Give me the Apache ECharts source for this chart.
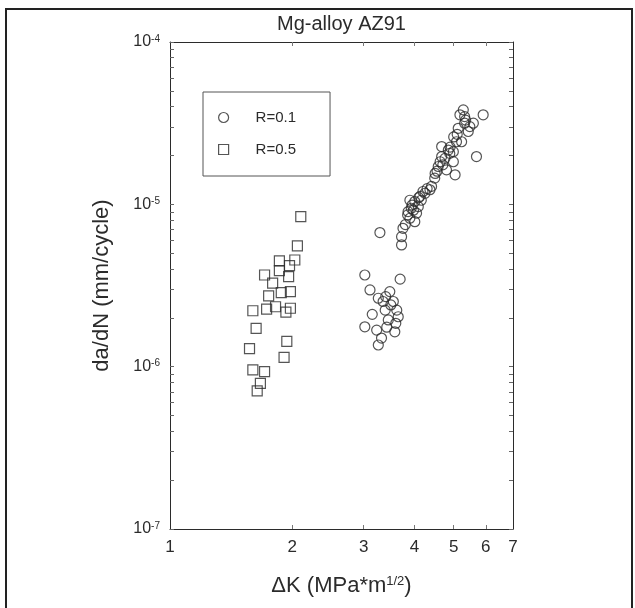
<!DOCTYPE html>
<html>
<head>
<meta charset="utf-8">
<script src="https://cdn.jsdelivr.net/npm/echarts@6/dist/echarts.min.js"></script>
<style>
  html, body { margin: 0; padding: 0; background: #fff; }
  #chart { width: 635px; height: 608px; }
</style>
</head>
<body>
<div id="chart"></div>
<script>
// R=0.1 points: [deltaK, da/dN]
const r01 = [
  [5.91, 3.56e-5], [5.28, 3.82e-5], [5.32, 3.47e-5], [5.59, 3.16e-5], [5.13, 2.94e-5],
  [5.43, 2.81e-5], [5.32, 3.16e-5], [5.18, 3.56e-5], [5.48, 3.01e-5], [5.69, 1.97e-5],
  [5.08, 2.43e-5], [5.23, 2.43e-5], [4.85, 2.16e-5], [4.67, 2.27e-5], [4.99, 2.11e-5],
  [4.89, 2.06e-5], [4.67, 1.97e-5], [4.76, 1.92e-5], [4.99, 1.83e-5], [4.63, 1.83e-5],
  [5.04, 1.52e-5], [4.58, 1.71e-5], [4.80, 1.63e-5], [4.49, 1.45e-5], [4.41, 1.29e-5],
  [4.37, 1.23e-5], [4.25, 1.17e-5], [4.13, 1.12e-5], [4.16, 1.06e-5], [4.01, 1.04e-5],
  [3.90, 1.06e-5], [3.93, 9.46e-6], [4.09, 9.68e-6], [3.86, 9.02e-6], [4.05, 8.82e-6],
  [3.90, 8.21e-6], [4.01, 7.82e-6], [3.75, 7.12e-6], [3.72, 6.32e-6], [3.72, 5.62e-6],
  [3.80, 7.50e-6], [3.85, 8.60e-6], [3.95, 9.90e-6], [4.20, 1.20e-5], [4.30, 1.25e-5],
  [4.50, 1.55e-5], [4.55, 1.60e-5], [4.70, 1.75e-5], [4.90, 2.25e-5], [5.00, 2.60e-5],
  [5.10, 2.70e-5], [5.35, 3.30e-5], [4.10, 1.10e-5], [3.98, 9.20e-6],
  [3.29, 6.70e-6],
  [3.02, 3.67e-6], [3.69, 3.46e-6], [3.11, 2.97e-6], [3.26, 2.64e-6], [3.48, 2.90e-6],
  [3.35, 2.52e-6], [3.55, 2.52e-6], [3.39, 2.23e-6], [3.62, 2.23e-6], [3.45, 1.94e-6],
  [3.02, 1.76e-6], [3.65, 2.03e-6], [3.23, 1.68e-6], [3.58, 1.64e-6], [3.26, 1.36e-6],
  [3.32, 1.50e-6], [3.40, 2.70e-6], [3.50, 2.40e-6], [3.15, 2.10e-6], [3.42, 1.75e-6],
  [3.60, 1.85e-6]
];

// R=0.5 points
const r05 = [
  [2.10, 8.4e-6], [2.06, 5.54e-6], [1.86, 4.48e-6], [1.97, 4.19e-6], [2.03, 4.54e-6],
  [1.86, 3.90e-6], [1.71, 3.67e-6], [1.79, 3.27e-6], [1.96, 3.59e-6], [1.98, 2.90e-6],
  [1.75, 2.73e-6], [1.88, 2.86e-6], [1.60, 2.21e-6], [1.73, 2.26e-6], [1.82, 2.34e-6],
  [1.93, 2.17e-6], [1.98, 2.29e-6], [1.63, 1.72e-6], [1.94, 1.43e-6], [1.57, 1.29e-6],
  [1.91, 1.14e-6], [1.60, 9.55e-7], [1.71, 9.32e-7], [1.67, 7.9e-7], [1.64, 7.1e-7]
];

const xTickLabels = [1, 2, 3, 4, 5, 6, 7];
const xTicks = [2, 3, 4, 5, 6];
const yTickLabels = [1e-7, 1e-6, 1e-5, 1e-4];
const mantissas = [1, 2, 3, 4, 5, 6, 7, 8, 9];

const yTicks = [];
[-7, -6, -5].forEach(e => {
  mantissas.forEach(m => yTicks.push(Number((m * Math.pow(10, e)).toPrecision(3))));
});
yTicks.push(1e-4);

const ink = '#2b2b2b';
const font = 'Liberation Sans';

const chart = echarts.init(document.getElementById('chart'));

const yLabelFmt = v => '{b|10}{s|' + Math.round(Math.log10(v)) + '}';

const option = {
  animation: false,
  textStyle: { fontFamily: font, color: ink },
  title: {
    text: 'Mg-alloy AZ91',
    left: 341.5,
    top: 14,
    padding: 0,
    textAlign: 'center',
    textStyle: { fontFamily: font, fontSize: 20, fontWeight: 'normal', color: ink }
  },
  legend: {
    orient: 'vertical',
    left: 203,
    top: 92,
    padding: [18, 34, 19, 15],
    itemWidth: 10,
    itemHeight: 10,
    itemGap: 17,
    borderColor: '#555',
    borderWidth: 1,
    textStyle: { fontFamily: font, fontSize: 15, color: ink, padding: [0, 0, 0, 22] },
    data: [
      { name: 'R=0.1', icon: 'circle', itemStyle: { color: 'transparent', borderColor: ink, borderWidth: 1.2 } },
      { name: 'R=0.5', icon: 'rect', itemStyle: { color: 'transparent', borderColor: ink, borderWidth: 1.2 } }
    ]
  },
  grid: { left: 170, right: 122, top: 42, bottom: 79 },
  xAxis: [
    {
      type: 'log', logBase: 10, min: 1, max: 7, position: 'bottom',
      name: 'ΔK (MPa*m{sup|1/2})',
      nameLocation: 'middle', nameGap: 46,
      nameTextStyle: {
        fontFamily: font, fontSize: 22, color: ink,
        rich: { sup: { fontSize: 13, verticalAlign: 'top', color: ink, fontFamily: font } }
      },
      axisLine: { lineStyle: { color: ink, width: 1 } },
      axisTick: { show: true, inside: true, length: 4, customValues: xTicks, lineStyle: { color: '#777' } },
      axisLabel: { customValues: xTickLabels, margin: 10, fontSize: 17, color: ink, formatter: v => String(Math.round(v)) },
      splitLine: { show: false }, minorTick: { show: false }
    },
    {
      type: 'log', logBase: 10, min: 1, max: 7, position: 'top',
      axisLine: { lineStyle: { color: ink, width: 1 } },
      axisTick: { show: true, inside: true, length: 4, customValues: xTicks, lineStyle: { color: '#777' } },
      axisLabel: { show: false },
      splitLine: { show: false }
    }
  ],
  yAxis: [
    {
      type: 'log', logBase: 10, min: 1e-7, max: 1e-4, position: 'left',
      name: 'da/dN (mm/cycle)',
      nameLocation: 'middle', nameGap: 57,
      nameTextStyle: { fontFamily: font, fontSize: 22, color: ink },
      axisLine: { lineStyle: { color: ink, width: 1 } },
      axisTick: { show: true, inside: true, length: 4, customValues: yTicks, lineStyle: { color: '#666' } },
      axisLabel: {
        customValues: yTickLabels, margin: 10, formatter: yLabelFmt,
        rich: {
          b: { fontSize: 16, color: ink, fontFamily: font },
          s: { fontSize: 10, color: ink, fontFamily: font, verticalAlign: 'top' }
        }
      },
      splitLine: { show: false }
    },
    {
      type: 'log', logBase: 10, min: 1e-7, max: 1e-4, position: 'right',
      axisLine: { lineStyle: { color: ink, width: 1 } },
      axisTick: { show: true, inside: true, length: 4, customValues: yTicks, lineStyle: { color: '#666' } },
      axisLabel: { show: false },
      splitLine: { show: false }
    }
  ],
  series: [
    {
      name: 'R=0.1', type: 'scatter', data: r01, symbol: 'circle', symbolSize: 10,
      itemStyle: { color: 'transparent', borderColor: ink, borderWidth: 1.2 }
    },
    {
      name: 'R=0.5', type: 'scatter', data: r05, symbol: 'rect', symbolSize: 10,
      itemStyle: { color: 'transparent', borderColor: ink, borderWidth: 1.2 }
    }
  ],
  graphic: [
    {
      type: 'rect', silent: true, z: 100,
      shape: { x: 6, y: 9, width: 626, height: 620 },
      style: { fill: 'none', stroke: '#222', lineWidth: 2 }
    }
  ]
};

chart.setOption(option);
</script>
</body>
</html>
